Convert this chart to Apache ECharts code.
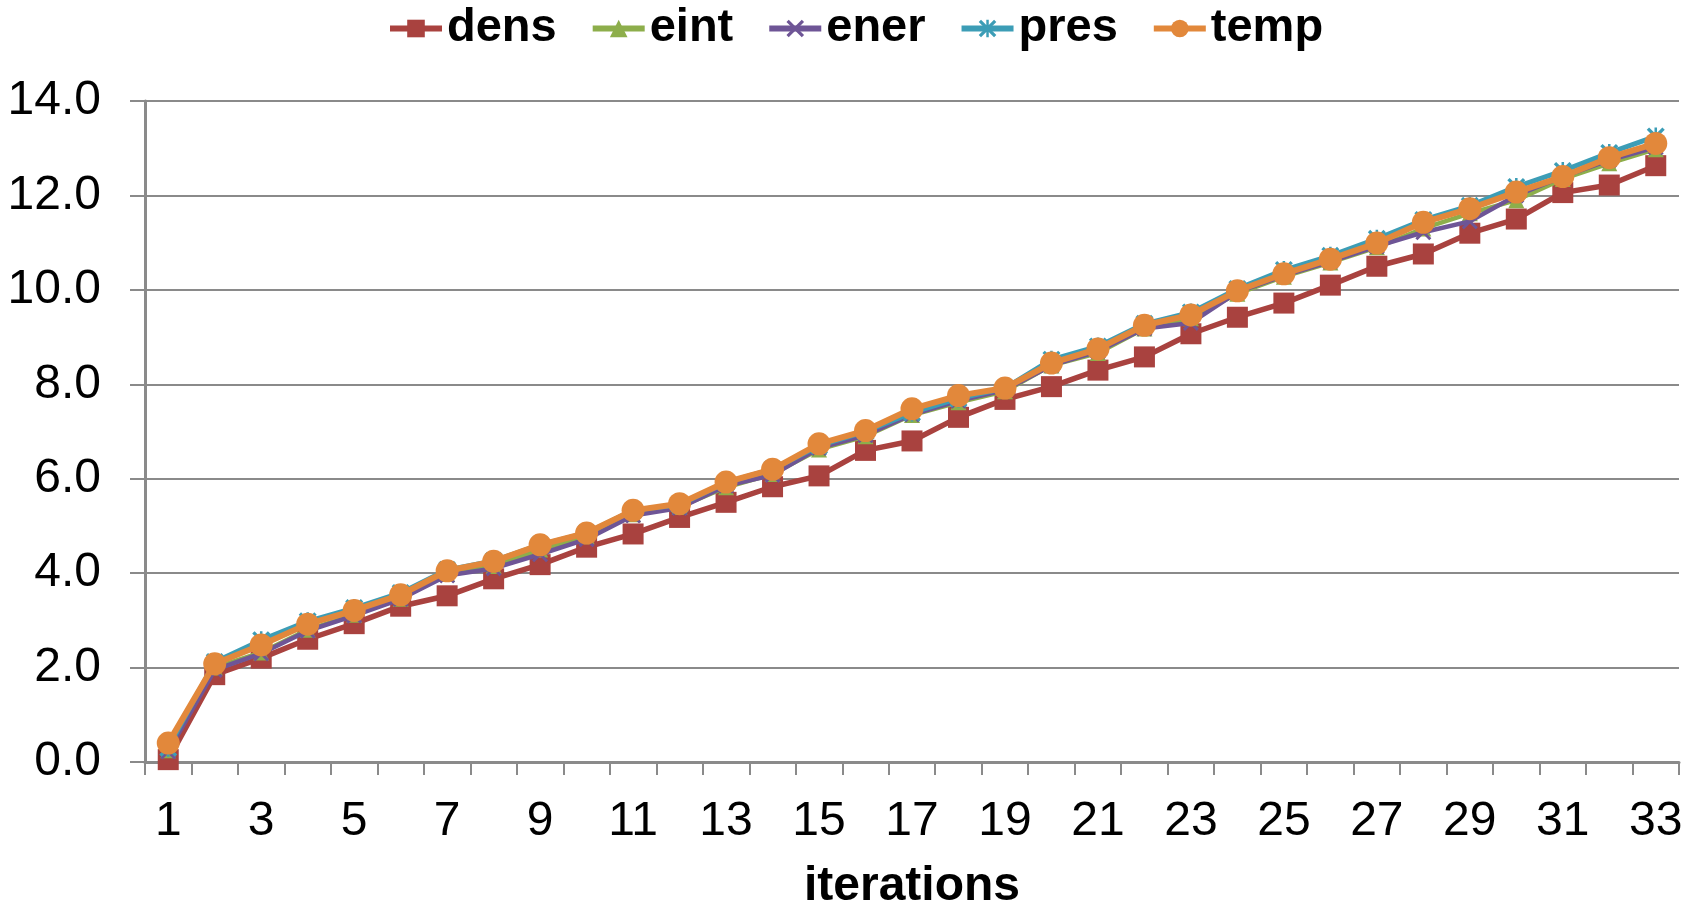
<!DOCTYPE html>
<html>
<head>
<meta charset="utf-8">
<script src="https://cdn.jsdelivr.net/npm/echarts@6/dist/echarts.min.js"></script>
<style>
html,body{margin:0;padding:0;background:#fff;}
#chart{width:1702px;height:903px;}
</style>
</head>
<body>
<div id="chart"></div>
<script>
var categories = [];
for (var i = 1; i <= 33; i++) categories.push(String(i));

var dens = [0.05, 1.85, 2.20, 2.60, 2.93, 3.30, 3.52, 3.88, 4.18, 4.55, 4.83, 5.18, 5.50, 5.83, 6.06, 6.60, 6.80, 7.30, 7.68, 7.95, 8.30, 8.58, 9.07, 9.42, 9.72, 10.10, 10.50, 10.76, 11.20, 11.50, 12.06, 12.22, 12.63];
var eint = [0.25, 2.00, 2.32, 2.80, 3.12, 3.46, 3.98, 4.15, 4.50, 4.78, 5.25, 5.40, 5.82, 6.10, 6.62, 6.90, 7.35, 7.62, 7.85, 8.40, 8.66, 9.18, 9.40, 9.92, 10.28, 10.58, 10.90, 11.30, 11.62, 11.90, 12.35, 12.68, 12.98];
var ener = [0.22, 1.95, 2.30, 2.78, 3.10, 3.45, 3.95, 4.10, 4.40, 4.72, 5.22, 5.38, 5.85, 6.08, 6.65, 6.92, 7.36, 7.65, 7.88, 8.40, 8.70, 9.18, 9.30, 9.95, 10.30, 10.60, 10.92, 11.22, 11.45, 12.00, 12.40, 12.75, 13.02];
var pres = [0.30, 2.12, 2.58, 2.98, 3.26, 3.58, 4.07, 4.26, 4.60, 4.85, 5.33, 5.45, 5.92, 6.20, 6.70, 7.00, 7.40, 7.70, 7.92, 8.52, 8.80, 9.28, 9.52, 10.02, 10.42, 10.72, 11.08, 11.48, 11.78, 12.18, 12.52, 12.90, 13.25];
var temp = [0.40, 2.08, 2.48, 2.92, 3.21, 3.54, 4.05, 4.25, 4.60, 4.85, 5.33, 5.47, 5.93, 6.20, 6.74, 7.02, 7.48, 7.76, 7.92, 8.45, 8.75, 9.25, 9.47, 9.98, 10.34, 10.65, 10.99, 11.43, 11.72, 12.07, 12.40, 12.80, 13.10];

var seriesNames = ['dens', 'eint', 'ener', 'pres', 'temp'];
var seriesData = [dens, eint, ener, pres, temp];
var colors = ['#A9423F', '#8DAE4B', '#6E5596', '#3C9DB6', '#E2883B'];

var xSym = 'path://M0,1.3L1.3,0L5,3.7L8.7,0L10,1.3L6.3,5L10,8.7L8.7,10L5,6.3L1.3,10L0,8.7L3.7,5Z';
var starSym = 'path://M0,1.3L1.3,0L5,3.7L8.7,0L10,1.3L6.3,5L10,8.7L8.7,10L5,6.3L1.3,10L0,8.7L3.7,5Z M4.3,0L5.7,0L5.7,10L4.3,10Z';
var symbols = ['rect', 'triangle', xSym, starSym, 'circle'];
var symbolSizes = [21, 16, 16, 18, 23];
var lineWidths = [5.5, 4.5, 4.5, 5, 6];

var FONT = "'Liberation Sans', Arial, sans-serif";

var series = seriesNames.map(function (n, k) {
  return {
    name: n,
    type: 'line',
    data: seriesData[k],
    symbol: symbols[k],
    symbolSize: symbolSizes[k],
    lineStyle: { color: colors[k], width: lineWidths[k] },
    itemStyle: { color: colors[k] },
    z: 2 + k,
    animation: false
  };
});

var chart = echarts.init(document.getElementById('chart'));
chart.setOption({
  backgroundColor: '#fff',
  color: colors,
  animation: false,
  legend: {
    data: seriesNames,
    top: 0,
    left: 382,
    itemWidth: 52,
    itemHeight: 22,
    itemGap: 33,
    lineStyle: { width: 6 },
    textStyle: { fontFamily: FONT, fontSize: 47, fontWeight: 'bold', color: '#000' }
  },
  grid: { left: 145, right: 23, top: 101, bottom: 141, containLabel: false, outerBoundsMode: 'none' },
  xAxis: {
    type: 'category',
    data: categories,
    boundaryGap: true,
    name: 'iterations',
    nameLocation: 'middle',
    nameGap: 101,
    nameTextStyle: { fontFamily: FONT, fontSize: 48, fontWeight: 'bold', color: '#000' },
    axisLine: { lineStyle: { color: '#8a8a8a', width: 3 } },
    axisTick: { show: true, interval: 0, length: 13, lineStyle: { color: '#8a8a8a', width: 2 } },
    axisLabel: { interval: 1, margin: 36, fontFamily: FONT, fontSize: 48, color: '#000' },
    splitLine: { show: false }
  },
  yAxis: {
    type: 'value',
    min: 0,
    max: 14,
    interval: 2,
    axisLine: { show: true, lineStyle: { color: '#8a8a8a', width: 3 } },
    axisTick: { show: true, length: 15, lineStyle: { color: '#8a8a8a', width: 2 } },
    axisLabel: {
      margin: 44, fontFamily: FONT, fontSize: 48, color: '#000',
      formatter: function (v) { return v.toFixed(1); }
    },
    splitLine: { show: true, lineStyle: { color: '#8a8a8a', width: 2 } }
  },
  series: series
});
</script>
</body>
</html>
